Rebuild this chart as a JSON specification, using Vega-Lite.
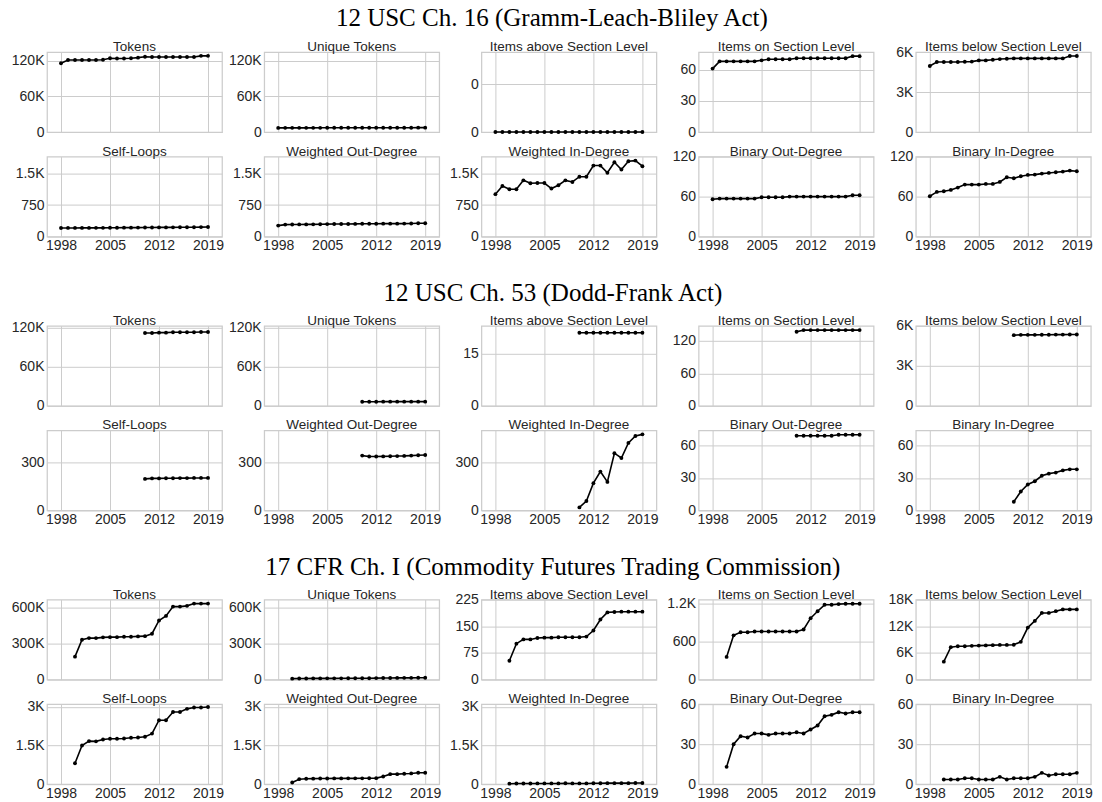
{
"$schema": "https://vega.github.io/schema/vega-lite/v6.json",
"padding": {"left": 10, "top": 5, "right": 5, "bottom": 2},
"title": {"text": "12 USC Ch. 16 (Gramm-Leach-Bliley Act)", "font": "Liberation Serif", "fontSize": 25, "color": "black", "offset": 8.4, "frame": "bounds", "anchor": "middle"},
"datasets": {
"g1_tok": [{"year":1998,"value":116000},{"year":1999,"value":121500},{"year":2000,"value":121500},{"year":2001,"value":121500},{"year":2002,"value":121500},{"year":2003,"value":121500},{"year":2004,"value":122000},{"year":2005,"value":124500},{"year":2006,"value":124000},{"year":2007,"value":124000},{"year":2008,"value":124500},{"year":2009,"value":125500},{"year":2010,"value":127000},{"year":2011,"value":126500},{"year":2012,"value":126500},{"year":2013,"value":126500},{"year":2014,"value":126500},{"year":2015,"value":126500},{"year":2016,"value":126500},{"year":2017,"value":126500},{"year":2018,"value":128500},{"year":2019,"value":128500}],
"g1_uniq": [{"year":1998,"value":6900},{"year":1999,"value":7000},{"year":2000,"value":7000},{"year":2001,"value":7000},{"year":2002,"value":7000},{"year":2003,"value":7000},{"year":2004,"value":7050},{"year":2005,"value":7150},{"year":2006,"value":7150},{"year":2007,"value":7150},{"year":2008,"value":7150},{"year":2009,"value":7200},{"year":2010,"value":7250},{"year":2011,"value":7250},{"year":2012,"value":7250},{"year":2013,"value":7250},{"year":2014,"value":7250},{"year":2015,"value":7250},{"year":2016,"value":7250},{"year":2017,"value":7250},{"year":2018,"value":7350},{"year":2019,"value":7350}],
"g1_above": [{"year":1998,"value":0},{"year":1999,"value":0},{"year":2000,"value":0},{"year":2001,"value":0},{"year":2002,"value":0},{"year":2003,"value":0},{"year":2004,"value":0},{"year":2005,"value":0},{"year":2006,"value":0},{"year":2007,"value":0},{"year":2008,"value":0},{"year":2009,"value":0},{"year":2010,"value":0},{"year":2011,"value":0},{"year":2012,"value":0},{"year":2013,"value":0},{"year":2014,"value":0},{"year":2015,"value":0},{"year":2016,"value":0},{"year":2017,"value":0},{"year":2018,"value":0},{"year":2019,"value":0}],
"g1_on": [{"year":1998,"value":61},{"year":1999,"value":68},{"year":2000,"value":68},{"year":2001,"value":68},{"year":2002,"value":68},{"year":2003,"value":68},{"year":2004,"value":68},{"year":2005,"value":69},{"year":2006,"value":70},{"year":2007,"value":70},{"year":2008,"value":70},{"year":2009,"value":70},{"year":2010,"value":71},{"year":2011,"value":71},{"year":2012,"value":71},{"year":2013,"value":71},{"year":2014,"value":71},{"year":2015,"value":71},{"year":2016,"value":71},{"year":2017,"value":71},{"year":2018,"value":73},{"year":2019,"value":73}],
"g1_below": [{"year":1998,"value":4950},{"year":1999,"value":5250},{"year":2000,"value":5250},{"year":2001,"value":5250},{"year":2002,"value":5250},{"year":2003,"value":5270},{"year":2004,"value":5280},{"year":2005,"value":5370},{"year":2006,"value":5370},{"year":2007,"value":5420},{"year":2008,"value":5470},{"year":2009,"value":5490},{"year":2010,"value":5520},{"year":2011,"value":5520},{"year":2012,"value":5520},{"year":2013,"value":5520},{"year":2014,"value":5520},{"year":2015,"value":5520},{"year":2016,"value":5520},{"year":2017,"value":5520},{"year":2018,"value":5700},{"year":2019,"value":5700}],
"g1_self": [{"year":1998,"value":204},{"year":1999,"value":206},{"year":2000,"value":206},{"year":2001,"value":207},{"year":2002,"value":207},{"year":2003,"value":208},{"year":2004,"value":208},{"year":2005,"value":210},{"year":2006,"value":211},{"year":2007,"value":212},{"year":2008,"value":213},{"year":2009,"value":214},{"year":2010,"value":216},{"year":2011,"value":217},{"year":2012,"value":218},{"year":2013,"value":219},{"year":2014,"value":220},{"year":2015,"value":221},{"year":2016,"value":222},{"year":2017,"value":223},{"year":2018,"value":226},{"year":2019,"value":228}],
"g1_wout": [{"year":1998,"value":261},{"year":1999,"value":285},{"year":2000,"value":287},{"year":2001,"value":289},{"year":2002,"value":290},{"year":2003,"value":291},{"year":2004,"value":292},{"year":2005,"value":297},{"year":2006,"value":298},{"year":2007,"value":299},{"year":2008,"value":300},{"year":2009,"value":302},{"year":2010,"value":305},{"year":2011,"value":306},{"year":2012,"value":306},{"year":2013,"value":307},{"year":2014,"value":307},{"year":2015,"value":308},{"year":2016,"value":309},{"year":2017,"value":310},{"year":2018,"value":316},{"year":2019,"value":318}],
"g1_win": [{"year":1998,"value":1008},{"year":1999,"value":1203},{"year":2000,"value":1125},{"year":2001,"value":1125},{"year":2002,"value":1336},{"year":2003,"value":1266},{"year":2004,"value":1273},{"year":2005,"value":1273},{"year":2006,"value":1141},{"year":2007,"value":1219},{"year":2008,"value":1336},{"year":2009,"value":1297},{"year":2010,"value":1422},{"year":2011,"value":1422},{"year":2012,"value":1687},{"year":2013,"value":1687},{"year":2014,"value":1516},{"year":2015,"value":1766},{"year":2016,"value":1594},{"year":2017,"value":1789},{"year":2018,"value":1805},{"year":2019,"value":1672}],
"g1_bout": [{"year":1998,"value":56},{"year":1999,"value":57},{"year":2000,"value":57},{"year":2001,"value":57},{"year":2002,"value":57},{"year":2003,"value":57},{"year":2004,"value":57},{"year":2005,"value":59},{"year":2006,"value":59},{"year":2007,"value":59},{"year":2008,"value":59},{"year":2009,"value":60},{"year":2010,"value":60},{"year":2011,"value":60},{"year":2012,"value":60},{"year":2013,"value":60},{"year":2014,"value":60},{"year":2015,"value":60},{"year":2016,"value":60},{"year":2017,"value":60},{"year":2018,"value":62},{"year":2019,"value":62}],
"g1_bin": [{"year":1998,"value":60.5},{"year":1999,"value":67},{"year":2000,"value":68},{"year":2001,"value":70},{"year":2002,"value":73.5},{"year":2003,"value":78},{"year":2004,"value":78},{"year":2005,"value":78},{"year":2006,"value":79},{"year":2007,"value":79},{"year":2008,"value":82},{"year":2009,"value":89},{"year":2010,"value":87.5},{"year":2011,"value":90.5},{"year":2012,"value":92.5},{"year":2013,"value":93},{"year":2014,"value":94.5},{"year":2015,"value":95.5},{"year":2016,"value":96.5},{"year":2017,"value":97.5},{"year":2018,"value":99},{"year":2019,"value":98}],
"g2_tok": [{"year":2010,"value":112000},{"year":2011,"value":112000},{"year":2012,"value":112500},{"year":2013,"value":112500},{"year":2014,"value":113000},{"year":2015,"value":113000},{"year":2016,"value":113000},{"year":2017,"value":113000},{"year":2018,"value":113500},{"year":2019,"value":113500}],
"g2_uniq": [{"year":2010,"value":6300},{"year":2011,"value":6300},{"year":2012,"value":6300},{"year":2013,"value":6350},{"year":2014,"value":6350},{"year":2015,"value":6350},{"year":2016,"value":6400},{"year":2017,"value":6400},{"year":2018,"value":6400},{"year":2019,"value":6400}],
"g2_above": [{"year":2010,"value":21},{"year":2011,"value":21},{"year":2012,"value":21},{"year":2013,"value":21},{"year":2014,"value":21},{"year":2015,"value":21},{"year":2016,"value":21},{"year":2017,"value":21},{"year":2018,"value":21},{"year":2019,"value":21}],
"g2_on": [{"year":2010,"value":137},{"year":2011,"value":140},{"year":2012,"value":140},{"year":2013,"value":140},{"year":2014,"value":140},{"year":2015,"value":140},{"year":2016,"value":140},{"year":2017,"value":140},{"year":2018,"value":140},{"year":2019,"value":140}],
"g2_below": [{"year":2010,"value":5300},{"year":2011,"value":5320},{"year":2012,"value":5320},{"year":2013,"value":5320},{"year":2014,"value":5330},{"year":2015,"value":5330},{"year":2016,"value":5340},{"year":2017,"value":5340},{"year":2018,"value":5350},{"year":2019,"value":5350}],
"g2_self": [{"year":2010,"value":199},{"year":2011,"value":202},{"year":2012,"value":202},{"year":2013,"value":203},{"year":2014,"value":203},{"year":2015,"value":204},{"year":2016,"value":204},{"year":2017,"value":205},{"year":2018,"value":205},{"year":2019,"value":205}],
"g2_wout": [{"year":2010,"value":346},{"year":2011,"value":340},{"year":2012,"value":340},{"year":2013,"value":341},{"year":2014,"value":342},{"year":2015,"value":343},{"year":2016,"value":344},{"year":2017,"value":346},{"year":2018,"value":348},{"year":2019,"value":350}],
"g2_win": [{"year":2010,"value":19},{"year":2011,"value":59},{"year":2012,"value":172},{"year":2013,"value":245},{"year":2014,"value":180},{"year":2015,"value":361},{"year":2016,"value":331},{"year":2017,"value":426},{"year":2018,"value":470},{"year":2019,"value":480}],
"g2_bout": [{"year":2010,"value":69},{"year":2011,"value":69},{"year":2012,"value":69},{"year":2013,"value":69},{"year":2014,"value":69},{"year":2015,"value":69},{"year":2016,"value":70},{"year":2017,"value":70},{"year":2018,"value":70},{"year":2019,"value":70}],
"g2_bin": [{"year":2010,"value":8},{"year":2011,"value":17.5},{"year":2012,"value":24},{"year":2013,"value":27},{"year":2014,"value":32},{"year":2015,"value":34},{"year":2016,"value":35},{"year":2017,"value":37},{"year":2018,"value":38},{"year":2019,"value":38}],
"g3_tok": [{"year":2000,"value":190000},{"year":2001,"value":330000},{"year":2002,"value":344000},{"year":2003,"value":344000},{"year":2004,"value":350000},{"year":2005,"value":352000},{"year":2006,"value":352000},{"year":2007,"value":355000},{"year":2008,"value":355000},{"year":2009,"value":358000},{"year":2010,"value":360000},{"year":2011,"value":380000},{"year":2012,"value":490000},{"year":2013,"value":528000},{"year":2014,"value":605000},{"year":2015,"value":605000},{"year":2016,"value":611000},{"year":2017,"value":630000},{"year":2018,"value":630000},{"year":2019,"value":630000}],
"g3_uniq": [{"year":2000,"value":8000},{"year":2001,"value":9000},{"year":2002,"value":9500},{"year":2003,"value":9800},{"year":2004,"value":10000},{"year":2005,"value":10200},{"year":2006,"value":10400},{"year":2007,"value":10600},{"year":2008,"value":10800},{"year":2009,"value":11000},{"year":2010,"value":11200},{"year":2011,"value":11500},{"year":2012,"value":12500},{"year":2013,"value":13000},{"year":2014,"value":13500},{"year":2015,"value":14000},{"year":2016,"value":14300},{"year":2017,"value":14600},{"year":2018,"value":15000},{"year":2019,"value":15200}],
"g3_above": [{"year":2000,"value":53},{"year":2001,"value":101},{"year":2002,"value":113},{"year":2003,"value":113},{"year":2004,"value":117},{"year":2005,"value":118},{"year":2006,"value":118},{"year":2007,"value":119},{"year":2008,"value":119},{"year":2009,"value":119},{"year":2010,"value":119},{"year":2011,"value":121},{"year":2012,"value":138},{"year":2013,"value":169},{"year":2014,"value":189},{"year":2015,"value":190},{"year":2016,"value":191},{"year":2017,"value":191},{"year":2018,"value":191},{"year":2019,"value":191}],
"g3_on": [{"year":2000,"value":357},{"year":2001,"value":697},{"year":2002,"value":746},{"year":2003,"value":746},{"year":2004,"value":757},{"year":2005,"value":757},{"year":2006,"value":757},{"year":2007,"value":757},{"year":2008,"value":757},{"year":2009,"value":757},{"year":2010,"value":757},{"year":2011,"value":789},{"year":2012,"value":968},{"year":2013,"value":1076},{"year":2014,"value":1178},{"year":2015,"value":1178},{"year":2016,"value":1189},{"year":2017,"value":1195},{"year":2018,"value":1195},{"year":2019,"value":1195}],
"g3_below": [{"year":2000,"value":4030},{"year":2001,"value":7300},{"year":2002,"value":7500},{"year":2003,"value":7500},{"year":2004,"value":7600},{"year":2005,"value":7650},{"year":2006,"value":7700},{"year":2007,"value":7750},{"year":2008,"value":7800},{"year":2009,"value":7800},{"year":2010,"value":7850},{"year":2011,"value":8500},{"year":2012,"value":11700},{"year":2013,"value":13200},{"year":2014,"value":15000},{"year":2015,"value":15000},{"year":2016,"value":15400},{"year":2017,"value":15800},{"year":2018,"value":15800},{"year":2019,"value":15800}],
"g3_self": [{"year":2000,"value":810},{"year":2001,"value":1500},{"year":2002,"value":1670},{"year":2003,"value":1660},{"year":2004,"value":1730},{"year":2005,"value":1760},{"year":2006,"value":1760},{"year":2007,"value":1770},{"year":2008,"value":1800},{"year":2009,"value":1810},{"year":2010,"value":1840},{"year":2011,"value":1960},{"year":2012,"value":2480},{"year":2013,"value":2480},{"year":2014,"value":2800},{"year":2015,"value":2800},{"year":2016,"value":2920},{"year":2017,"value":2970},{"year":2018,"value":2970},{"year":2019,"value":2990}],
"g3_wout": [{"year":2000,"value":65},{"year":2001,"value":195},{"year":2002,"value":210},{"year":2003,"value":215},{"year":2004,"value":220},{"year":2005,"value":222},{"year":2006,"value":224},{"year":2007,"value":225},{"year":2008,"value":226},{"year":2009,"value":227},{"year":2010,"value":228},{"year":2011,"value":230},{"year":2012,"value":235},{"year":2013,"value":300},{"year":2014,"value":390},{"year":2015,"value":390},{"year":2016,"value":405},{"year":2017,"value":417},{"year":2018,"value":443},{"year":2019,"value":443}],
"g3_win": [{"year":2000,"value":20},{"year":2001,"value":25},{"year":2002,"value":25},{"year":2003,"value":25},{"year":2004,"value":30},{"year":2005,"value":30},{"year":2006,"value":30},{"year":2007,"value":30},{"year":2008,"value":35},{"year":2009,"value":30},{"year":2010,"value":30},{"year":2011,"value":30},{"year":2012,"value":35},{"year":2013,"value":35},{"year":2014,"value":40},{"year":2015,"value":40},{"year":2016,"value":40},{"year":2017,"value":40},{"year":2018,"value":45},{"year":2019,"value":45}],
"g3_bout": [{"year":2000,"value":13},{"year":2001,"value":30},{"year":2002,"value":36},{"year":2003,"value":35},{"year":2004,"value":38},{"year":2005,"value":38},{"year":2006,"value":37},{"year":2007,"value":38},{"year":2008,"value":38},{"year":2009,"value":38},{"year":2010,"value":39},{"year":2011,"value":38},{"year":2012,"value":41},{"year":2013,"value":44},{"year":2014,"value":51},{"year":2015,"value":52},{"year":2016,"value":54},{"year":2017,"value":53},{"year":2018,"value":54},{"year":2019,"value":54}],
"g3_bin": [{"year":2000,"value":3.5},{"year":2001,"value":3.5},{"year":2002,"value":3.5},{"year":2003,"value":4.5},{"year":2004,"value":4.5},{"year":2005,"value":3.5},{"year":2006,"value":3.5},{"year":2007,"value":3.5},{"year":2008,"value":5.5},{"year":2009,"value":3.5},{"year":2010,"value":4.5},{"year":2011,"value":4.5},{"year":2012,"value":4.5},{"year":2013,"value":5.5},{"year":2014,"value":8.5},{"year":2015,"value":6.5},{"year":2016,"value":7.5},{"year":2017,"value":7.5},{"year":2018,"value":7.5},{"year":2019,"value":8.5}]
},
"concat": [
{"title": {"text": "Tokens", "offset": -1.5}, "width": 175, "height": 80, "data": {"name": "g1_tok"}, "encoding": {"x": {"field": "year", "type": "quantitative", "scale": {"domain": [1996, 2021], "nice": false}, "axis": {"values": [1998, 2005, 2012, 2019], "labels": false}, "title": null}, "y": {"field": "value", "type": "quantitative", "scale": {"domain": [0, 135000], "nice": false}, "axis": {"values": [0, 60000, 120000]}, "title": null}}, "layer": [{"mark": {"type": "line", "color": "black", "strokeWidth": 1.6}}, {"mark": {"type": "point", "filled": true, "color": "black", "opacity": 1, "size": 15}}]},
{"title": {"text": "Unique Tokens", "offset": -1.5}, "width": 175, "height": 80, "data": {"name": "g1_uniq"}, "encoding": {"x": {"field": "year", "type": "quantitative", "scale": {"domain": [1996, 2021], "nice": false}, "axis": {"values": [1998, 2005, 2012, 2019], "labels": false}, "title": null}, "y": {"field": "value", "type": "quantitative", "scale": {"domain": [0, 135000], "nice": false}, "axis": {"values": [0, 60000, 120000]}, "title": null}}, "layer": [{"mark": {"type": "line", "color": "black", "strokeWidth": 1.6}}, {"mark": {"type": "point", "filled": true, "color": "black", "opacity": 1, "size": 15}}]},
{"title": {"text": "Items above Section Level", "offset": -1.5}, "width": 175, "height": 80, "data": {"name": "g1_above"}, "encoding": {"x": {"field": "year", "type": "quantitative", "scale": {"domain": [1996, 2021], "nice": false}, "axis": {"values": [1998, 2005, 2012, 2019], "labels": false}, "title": null}, "y": {"field": "value", "type": "quantitative", "scale": {"domain": [0, 0.05], "nice": false}, "axis": {"values": [0, 0.03], "labelExpr": "'0'"}, "title": null}}, "layer": [{"mark": {"type": "line", "color": "black", "strokeWidth": 1.6}}, {"mark": {"type": "point", "filled": true, "color": "black", "opacity": 1, "size": 15}}]},
{"title": {"text": "Items on Section Level", "offset": -1.5}, "width": 175, "height": 80, "data": {"name": "g1_on"}, "encoding": {"x": {"field": "year", "type": "quantitative", "scale": {"domain": [1996, 2021], "nice": false}, "axis": {"values": [1998, 2005, 2012, 2019], "labels": false}, "title": null}, "y": {"field": "value", "type": "quantitative", "scale": {"domain": [0, 77], "nice": false}, "axis": {"values": [0, 30, 60]}, "title": null}}, "layer": [{"mark": {"type": "line", "color": "black", "strokeWidth": 1.6}}, {"mark": {"type": "point", "filled": true, "color": "black", "opacity": 1, "size": 15}}]},
{"title": {"text": "Items below Section Level", "offset": -8.5}, "width": 175, "height": 80, "data": {"name": "g1_below"}, "encoding": {"x": {"field": "year", "type": "quantitative", "scale": {"domain": [1996, 2021], "nice": false}, "axis": {"values": [1998, 2005, 2012, 2019], "labels": false}, "title": null}, "y": {"field": "value", "type": "quantitative", "scale": {"domain": [0, 6000], "nice": false}, "axis": {"values": [0, 3000, 6000]}, "title": null}}, "layer": [{"mark": {"type": "line", "color": "black", "strokeWidth": 1.6}}, {"mark": {"type": "point", "filled": true, "color": "black", "opacity": 1, "size": 15}}]},

{"title": {"text": "Self-Loops", "offset": -1.5}, "width": 175, "height": 80, "data": {"name": "g1_self"}, "encoding": {"x": {"field": "year", "type": "quantitative", "scale": {"domain": [1996, 2021], "nice": false}, "axis": {"values": [1998, 2005, 2012, 2019]}, "title": null}, "y": {"field": "value", "type": "quantitative", "scale": {"domain": [0, 1900], "nice": false}, "axis": {"values": [0, 750, 1500]}, "title": null}}, "layer": [{"mark": {"type": "line", "color": "black", "strokeWidth": 1.6}}, {"mark": {"type": "point", "filled": true, "color": "black", "opacity": 1, "size": 15}}]},
{"title": {"text": "Weighted Out-Degree", "offset": -1.5}, "width": 175, "height": 80, "data": {"name": "g1_wout"}, "encoding": {"x": {"field": "year", "type": "quantitative", "scale": {"domain": [1996, 2021], "nice": false}, "axis": {"values": [1998, 2005, 2012, 2019]}, "title": null}, "y": {"field": "value", "type": "quantitative", "scale": {"domain": [0, 1900], "nice": false}, "axis": {"values": [0, 750, 1500]}, "title": null}}, "layer": [{"mark": {"type": "line", "color": "black", "strokeWidth": 1.6}}, {"mark": {"type": "point", "filled": true, "color": "black", "opacity": 1, "size": 15}}]},
{"title": {"text": "Weighted In-Degree", "offset": -1.5}, "width": 175, "height": 80, "data": {"name": "g1_win"}, "encoding": {"x": {"field": "year", "type": "quantitative", "scale": {"domain": [1996, 2021], "nice": false}, "axis": {"values": [1998, 2005, 2012, 2019]}, "title": null}, "y": {"field": "value", "type": "quantitative", "scale": {"domain": [0, 1900], "nice": false}, "axis": {"values": [0, 750, 1500]}, "title": null}}, "layer": [{"mark": {"type": "line", "color": "black", "strokeWidth": 1.6}}, {"mark": {"type": "point", "filled": true, "color": "black", "opacity": 1, "size": 15}}]},
{"title": {"text": "Binary Out-Degree", "offset": -8.5}, "width": 175, "height": 80, "data": {"name": "g1_bout"}, "encoding": {"x": {"field": "year", "type": "quantitative", "scale": {"domain": [1996, 2021], "nice": false}, "axis": {"values": [1998, 2005, 2012, 2019]}, "title": null}, "y": {"field": "value", "type": "quantitative", "scale": {"domain": [0, 120], "nice": false}, "axis": {"values": [0, 60, 120]}, "title": null}}, "layer": [{"mark": {"type": "line", "color": "black", "strokeWidth": 1.6}}, {"mark": {"type": "point", "filled": true, "color": "black", "opacity": 1, "size": 15}}]},
{"title": {"text": "Binary In-Degree", "offset": -8.5}, "width": 175, "height": 80, "data": {"name": "g1_bin"}, "encoding": {"x": {"field": "year", "type": "quantitative", "scale": {"domain": [1996, 2021], "nice": false}, "axis": {"values": [1998, 2005, 2012, 2019]}, "title": null}, "y": {"field": "value", "type": "quantitative", "scale": {"domain": [0, 120], "nice": false}, "axis": {"values": [0, 60, 120]}, "title": null}}, "layer": [{"mark": {"type": "line", "color": "black", "strokeWidth": 1.6}}, {"mark": {"type": "point", "filled": true, "color": "black", "opacity": 1, "size": 15}}]},

{"width": 175, "height": 39.2, "view": {"stroke": null}, "data": {"values": []}, "mark": "point"},
{"width": 175, "height": 39.2, "view": {"stroke": null}, "data": {"values": []}, "mark": "point"},
{"title": {"text": "12 USC Ch. 53 (Dodd-Frank Act)", "font": "Liberation Serif", "fontSize": 25, "color": "black", "offset": -45, "dx": -16, "frame": "group"}, "width": 175, "height": 39.2, "view": {"stroke": null}, "data": {"values": []}, "mark": "point"},
{"width": 175, "height": 39.2, "view": {"stroke": null}, "data": {"values": []}, "mark": "point"},
{"width": 175, "height": 39.2, "view": {"stroke": null}, "data": {"values": []}, "mark": "point"},

{"title": {"text": "Tokens", "offset": -6.5}, "width": 175, "height": 80, "data": {"name": "g2_tok"}, "encoding": {"x": {"field": "year", "type": "quantitative", "scale": {"domain": [1996, 2021], "nice": false}, "axis": {"values": [1998, 2005, 2012, 2019], "labels": false}, "title": null}, "y": {"field": "value", "type": "quantitative", "scale": {"domain": [0, 123000], "nice": false}, "axis": {"values": [0, 60000, 120000]}, "title": null}}, "layer": [{"mark": {"type": "line", "color": "black", "strokeWidth": 1.6}}, {"mark": {"type": "point", "filled": true, "color": "black", "opacity": 1, "size": 15}}]},
{"title": {"text": "Unique Tokens", "offset": -6.5}, "width": 175, "height": 80, "data": {"name": "g2_uniq"}, "encoding": {"x": {"field": "year", "type": "quantitative", "scale": {"domain": [1996, 2021], "nice": false}, "axis": {"values": [1998, 2005, 2012, 2019], "labels": false}, "title": null}, "y": {"field": "value", "type": "quantitative", "scale": {"domain": [0, 123000], "nice": false}, "axis": {"values": [0, 60000, 120000]}, "title": null}}, "layer": [{"mark": {"type": "line", "color": "black", "strokeWidth": 1.6}}, {"mark": {"type": "point", "filled": true, "color": "black", "opacity": 1, "size": 15}}]},
{"title": {"text": "Items above Section Level", "offset": -1.5}, "width": 175, "height": 80, "data": {"name": "g2_above"}, "encoding": {"x": {"field": "year", "type": "quantitative", "scale": {"domain": [1996, 2021], "nice": false}, "axis": {"values": [1998, 2005, 2012, 2019], "labels": false}, "title": null}, "y": {"field": "value", "type": "quantitative", "scale": {"domain": [0, 23], "nice": false}, "axis": {"values": [0, 15]}, "title": null}}, "layer": [{"mark": {"type": "line", "color": "black", "strokeWidth": 1.6}}, {"mark": {"type": "point", "filled": true, "color": "black", "opacity": 1, "size": 15}}]},
{"title": {"text": "Items on Section Level", "offset": -1.5}, "width": 175, "height": 80, "data": {"name": "g2_on"}, "encoding": {"x": {"field": "year", "type": "quantitative", "scale": {"domain": [1996, 2021], "nice": false}, "axis": {"values": [1998, 2005, 2012, 2019], "labels": false}, "title": null}, "y": {"field": "value", "type": "quantitative", "scale": {"domain": [0, 148], "nice": false}, "axis": {"values": [0, 60, 120]}, "title": null}}, "layer": [{"mark": {"type": "line", "color": "black", "strokeWidth": 1.6}}, {"mark": {"type": "point", "filled": true, "color": "black", "opacity": 1, "size": 15}}]},
{"title": {"text": "Items below Section Level", "offset": -8.5}, "width": 175, "height": 80, "data": {"name": "g2_below"}, "encoding": {"x": {"field": "year", "type": "quantitative", "scale": {"domain": [1996, 2021], "nice": false}, "axis": {"values": [1998, 2005, 2012, 2019], "labels": false}, "title": null}, "y": {"field": "value", "type": "quantitative", "scale": {"domain": [0, 6000], "nice": false}, "axis": {"values": [0, 3000, 6000]}, "title": null}}, "layer": [{"mark": {"type": "line", "color": "black", "strokeWidth": 1.6}}, {"mark": {"type": "point", "filled": true, "color": "black", "opacity": 1, "size": 15}}]},

{"title": {"text": "Self-Loops", "offset": -1.5}, "width": 175, "height": 80, "data": {"name": "g2_self"}, "encoding": {"x": {"field": "year", "type": "quantitative", "scale": {"domain": [1996, 2021], "nice": false}, "axis": {"values": [1998, 2005, 2012, 2019]}, "title": null}, "y": {"field": "value", "type": "quantitative", "scale": {"domain": [0, 505], "nice": false}, "axis": {"values": [0, 300]}, "title": null}}, "layer": [{"mark": {"type": "line", "color": "black", "strokeWidth": 1.6}}, {"mark": {"type": "point", "filled": true, "color": "black", "opacity": 1, "size": 15}}]},
{"title": {"text": "Weighted Out-Degree", "offset": -1.5}, "width": 175, "height": 80, "data": {"name": "g2_wout"}, "encoding": {"x": {"field": "year", "type": "quantitative", "scale": {"domain": [1996, 2021], "nice": false}, "axis": {"values": [1998, 2005, 2012, 2019]}, "title": null}, "y": {"field": "value", "type": "quantitative", "scale": {"domain": [0, 505], "nice": false}, "axis": {"values": [0, 300]}, "title": null}}, "layer": [{"mark": {"type": "line", "color": "black", "strokeWidth": 1.6}}, {"mark": {"type": "point", "filled": true, "color": "black", "opacity": 1, "size": 15}}]},
{"title": {"text": "Weighted In-Degree", "offset": -1.5}, "width": 175, "height": 80, "data": {"name": "g2_win"}, "encoding": {"x": {"field": "year", "type": "quantitative", "scale": {"domain": [1996, 2021], "nice": false}, "axis": {"values": [1998, 2005, 2012, 2019]}, "title": null}, "y": {"field": "value", "type": "quantitative", "scale": {"domain": [0, 505], "nice": false}, "axis": {"values": [0, 300]}, "title": null}}, "layer": [{"mark": {"type": "line", "color": "black", "strokeWidth": 1.6}}, {"mark": {"type": "point", "filled": true, "color": "black", "opacity": 1, "size": 15}}]},
{"title": {"text": "Binary Out-Degree", "offset": -1.5}, "width": 175, "height": 80, "data": {"name": "g2_bout"}, "encoding": {"x": {"field": "year", "type": "quantitative", "scale": {"domain": [1996, 2021], "nice": false}, "axis": {"values": [1998, 2005, 2012, 2019]}, "title": null}, "y": {"field": "value", "type": "quantitative", "scale": {"domain": [0, 74], "nice": false}, "axis": {"values": [0, 30, 60]}, "title": null}}, "layer": [{"mark": {"type": "line", "color": "black", "strokeWidth": 1.6}}, {"mark": {"type": "point", "filled": true, "color": "black", "opacity": 1, "size": 15}}]},
{"title": {"text": "Binary In-Degree", "offset": -1.5}, "width": 175, "height": 80, "data": {"name": "g2_bin"}, "encoding": {"x": {"field": "year", "type": "quantitative", "scale": {"domain": [1996, 2021], "nice": false}, "axis": {"values": [1998, 2005, 2012, 2019]}, "title": null}, "y": {"field": "value", "type": "quantitative", "scale": {"domain": [0, 74], "nice": false}, "axis": {"values": [0, 30, 60]}, "title": null}}, "layer": [{"mark": {"type": "line", "color": "black", "strokeWidth": 1.6}}, {"mark": {"type": "point", "filled": true, "color": "black", "opacity": 1, "size": 15}}]},

{"width": 175, "height": 39.2, "view": {"stroke": null}, "data": {"values": []}, "mark": "point"},
{"width": 175, "height": 39.2, "view": {"stroke": null}, "data": {"values": []}, "mark": "point"},
{"title": {"text": "17 CFR Ch. I (Commodity Futures Trading Commission)", "font": "Liberation Serif", "fontSize": 25, "color": "black", "offset": -45, "dx": -16, "frame": "group"}, "width": 175, "height": 39.2, "view": {"stroke": null}, "data": {"values": []}, "mark": "point"},
{"width": 175, "height": 39.2, "view": {"stroke": null}, "data": {"values": []}, "mark": "point"},
{"width": 175, "height": 39.2, "view": {"stroke": null}, "data": {"values": []}, "mark": "point"},

{"title": {"text": "Tokens", "offset": -1.5}, "width": 175, "height": 80, "data": {"name": "g3_tok"}, "encoding": {"x": {"field": "year", "type": "quantitative", "scale": {"domain": [1996, 2021], "nice": false}, "axis": {"values": [1998, 2005, 2012, 2019], "labels": false}, "title": null}, "y": {"field": "value", "type": "quantitative", "scale": {"domain": [0, 663000], "nice": false}, "axis": {"values": [0, 300000, 600000]}, "title": null}}, "layer": [{"mark": {"type": "line", "color": "black", "strokeWidth": 1.6}}, {"mark": {"type": "point", "filled": true, "color": "black", "opacity": 1, "size": 15}}]},
{"title": {"text": "Unique Tokens", "offset": -1.5}, "width": 175, "height": 80, "data": {"name": "g3_uniq"}, "encoding": {"x": {"field": "year", "type": "quantitative", "scale": {"domain": [1996, 2021], "nice": false}, "axis": {"values": [1998, 2005, 2012, 2019], "labels": false}, "title": null}, "y": {"field": "value", "type": "quantitative", "scale": {"domain": [0, 663000], "nice": false}, "axis": {"values": [0, 300000, 600000]}, "title": null}}, "layer": [{"mark": {"type": "line", "color": "black", "strokeWidth": 1.6}}, {"mark": {"type": "point", "filled": true, "color": "black", "opacity": 1, "size": 15}}]},
{"title": {"text": "Items above Section Level", "offset": -8.5}, "width": 175, "height": 80, "data": {"name": "g3_above"}, "encoding": {"x": {"field": "year", "type": "quantitative", "scale": {"domain": [1996, 2021], "nice": false}, "axis": {"values": [1998, 2005, 2012, 2019], "labels": false}, "title": null}, "y": {"field": "value", "type": "quantitative", "scale": {"domain": [0, 225], "nice": false}, "axis": {"values": [0, 75, 150, 225]}, "title": null}}, "layer": [{"mark": {"type": "line", "color": "black", "strokeWidth": 1.6}}, {"mark": {"type": "point", "filled": true, "color": "black", "opacity": 1, "size": 15}}]},
{"title": {"text": "Items on Section Level", "offset": -4.7}, "width": 175, "height": 80, "data": {"name": "g3_on"}, "encoding": {"x": {"field": "year", "type": "quantitative", "scale": {"domain": [1996, 2021], "nice": false}, "axis": {"values": [1998, 2005, 2012, 2019], "labels": false}, "title": null}, "y": {"field": "value", "type": "quantitative", "scale": {"domain": [0, 1260], "nice": false}, "axis": {"values": [0, 600, 1200]}, "title": null}}, "layer": [{"mark": {"type": "line", "color": "black", "strokeWidth": 1.6}}, {"mark": {"type": "point", "filled": true, "color": "black", "opacity": 1, "size": 15}}]},
{"title": {"text": "Items below Section Level", "offset": -8.5}, "width": 175, "height": 80, "data": {"name": "g3_below"}, "encoding": {"x": {"field": "year", "type": "quantitative", "scale": {"domain": [1996, 2021], "nice": false}, "axis": {"values": [1998, 2005, 2012, 2019], "labels": false}, "title": null}, "y": {"field": "value", "type": "quantitative", "scale": {"domain": [0, 18000], "nice": false}, "axis": {"values": [0, 6000, 12000, 18000]}, "title": null}}, "layer": [{"mark": {"type": "line", "color": "black", "strokeWidth": 1.6}}, {"mark": {"type": "point", "filled": true, "color": "black", "opacity": 1, "size": 15}}]},

{"title": {"text": "Self-Loops", "offset": -5.9}, "width": 175, "height": 80, "data": {"name": "g3_self"}, "encoding": {"x": {"field": "year", "type": "quantitative", "scale": {"domain": [1996, 2021], "nice": false}, "axis": {"values": [1998, 2005, 2012, 2019]}, "title": null}, "y": {"field": "value", "type": "quantitative", "scale": {"domain": [0, 3100], "nice": false}, "axis": {"values": [0, 1500, 3000]}, "title": null}}, "layer": [{"mark": {"type": "line", "color": "black", "strokeWidth": 1.6}}, {"mark": {"type": "point", "filled": true, "color": "black", "opacity": 1, "size": 15}}]},
{"title": {"text": "Weighted Out-Degree", "offset": -5.9}, "width": 175, "height": 80, "data": {"name": "g3_wout"}, "encoding": {"x": {"field": "year", "type": "quantitative", "scale": {"domain": [1996, 2021], "nice": false}, "axis": {"values": [1998, 2005, 2012, 2019]}, "title": null}, "y": {"field": "value", "type": "quantitative", "scale": {"domain": [0, 3100], "nice": false}, "axis": {"values": [0, 1500, 3000]}, "title": null}}, "layer": [{"mark": {"type": "line", "color": "black", "strokeWidth": 1.6}}, {"mark": {"type": "point", "filled": true, "color": "black", "opacity": 1, "size": 15}}]},
{"title": {"text": "Weighted In-Degree", "offset": -5.9}, "width": 175, "height": 80, "data": {"name": "g3_win"}, "encoding": {"x": {"field": "year", "type": "quantitative", "scale": {"domain": [1996, 2021], "nice": false}, "axis": {"values": [1998, 2005, 2012, 2019]}, "title": null}, "y": {"field": "value", "type": "quantitative", "scale": {"domain": [0, 3100], "nice": false}, "axis": {"values": [0, 1500, 3000]}, "title": null}}, "layer": [{"mark": {"type": "line", "color": "black", "strokeWidth": 1.6}}, {"mark": {"type": "point", "filled": true, "color": "black", "opacity": 1, "size": 15}}]},
{"title": {"text": "Binary Out-Degree", "offset": -8.5}, "width": 175, "height": 80, "data": {"name": "g3_bout"}, "encoding": {"x": {"field": "year", "type": "quantitative", "scale": {"domain": [1996, 2021], "nice": false}, "axis": {"values": [1998, 2005, 2012, 2019]}, "title": null}, "y": {"field": "value", "type": "quantitative", "scale": {"domain": [0, 60], "nice": false}, "axis": {"values": [0, 30, 60]}, "title": null}}, "layer": [{"mark": {"type": "line", "color": "black", "strokeWidth": 1.6}}, {"mark": {"type": "point", "filled": true, "color": "black", "opacity": 1, "size": 15}}]},
{"title": {"text": "Binary In-Degree", "offset": -8.5}, "width": 175, "height": 80, "data": {"name": "g3_bin"}, "encoding": {"x": {"field": "year", "type": "quantitative", "scale": {"domain": [1996, 2021], "nice": false}, "axis": {"values": [1998, 2005, 2012, 2019]}, "title": null}, "y": {"field": "value", "type": "quantitative", "scale": {"domain": [0, 60], "nice": false}, "axis": {"values": [0, 30, 60]}, "title": null}}, "layer": [{"mark": {"type": "line", "color": "black", "strokeWidth": 1.6}}, {"mark": {"type": "point", "filled": true, "color": "black", "opacity": 1, "size": 15}}]}
],
"columns": 5,
"spacing": {"row": 24.6, "column": 42.2},
"bounds": "flush",
"align": "each",
"config": {
"numberFormat": "d",
"view": {"stroke": "#cccccc", "strokeWidth": 1.25},
"axis": {"domain": false, "ticks": false, "grid": true, "gridColor": "#cccccc", "gridWidth": 1, "labelFont": "Liberation Sans", "labelFontSize": 14, "labelColor": "#262626", "labelOverlap": false},
"axisX": {"labelPadding": 2, "labelFlush": false},
"axisY": {"labelPadding": 3, "labelFlush": false, "labelExpr": "replace(format(datum.value, '~s'), 'k', 'K')"},
"title": {"font": "Liberation Sans", "fontSize": 13.5, "fontWeight": "normal", "color": "#262626", "anchor": "middle", "frame": "group"}
}
}
